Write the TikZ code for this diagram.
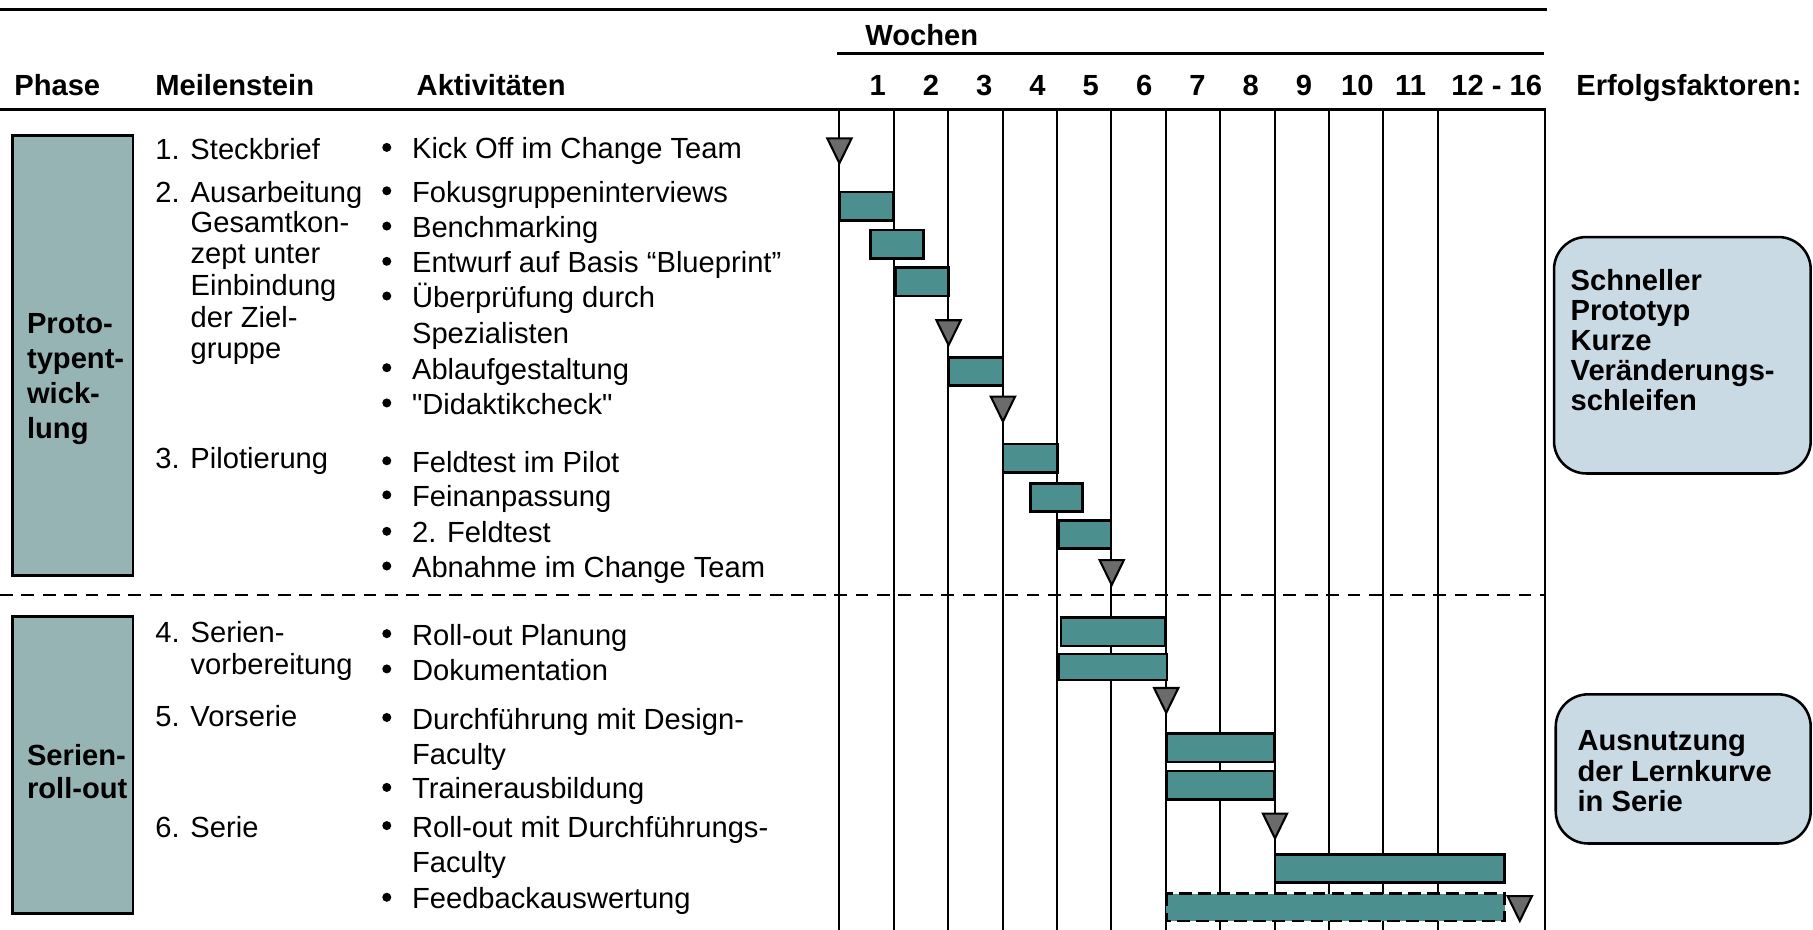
\documentclass[tikz,border=0pt]{standalone}
\usepackage{fontspec}
\setmainfont{Liberation Sans}
\usepackage{xcolor}
\usepackage{tikz}

\definecolor{barteal}{HTML}{4B8F8F}
\definecolor{phasegray}{HTML}{97B4B4}
\definecolor{factorblue}{HTML}{C9DAE5}
\definecolor{milegray}{HTML}{6B6B6B}

\begin{document}
\begin{tikzpicture}[x=0.5pt,y=-0.5pt,
    txt/.style={anchor=base west, inner sep=0pt, font=\fontsize{12.6}{15}\selectfont},
    hd/.style={txt, font=\fontsize{12.6}{15}\selectfont\bfseries},
    wk/.style={hd, anchor=base},
    dot/.style={circle, fill=black, inner sep=0pt, minimum size=3.9pt},
    bar/.style={draw=black, line width=1.15pt, fill=barteal},
    tri/.style={draw=black, line width=0.9pt, fill=milegray},
    gridline/.style={line width=0.85pt},
    rule/.style={line width=1.2pt},
    dashrule/.style={line width=1.1pt, dash pattern=on 5.5pt off 3.75pt}]
        \useasboundingbox (0,0) rectangle (1568,804);

        \coordinate (topL) at (0,8);
        \coordinate (topR) at (1338,8);
        \coordinate (wochenL) at (724,46);
        \coordinate (wochenR) at (1335,46);
        \coordinate (headL) at (0,95);
        \coordinate (headR) at (1337,95);
        \coordinate (splitL) at (0,514.7);
        \coordinate (splitR) at (1337,514.7);

        \draw[rule] (topL) -- (topR);
        \draw[rule] (wochenL) -- (wochenR);
        \draw[rule] (headL) -- (headR);

        \foreach \i in {0,...,11}
            \draw[gridline] (726+47.05*\i,95) -- (726+47.05*\i,804);
        \draw[gridline] (1336.6,95) -- (1336.6,804);

        \draw[dashrule] (splitL) -- (splitR);

        \draw[line width=1.2pt, fill=phasegray] (11,117) rectangle (115,498);
        \draw[line width=1.2pt, fill=phasegray] (11,533.5) rectangle (115,790);

        \draw[line width=1.1pt, fill=factorblue, rounded corners=14pt] (1344,205) rectangle (1566,409.5);
        \draw[line width=1.1pt, fill=factorblue, rounded corners=14pt] (1345.5,600.5) rectangle (1566,729.5);

        \foreach \xa/\xb/\ya/\yb in {726/773/166/190.5, 752.6/798.7/199/223.5, 774.5/820.4/231.6/256,
            820.4/867.4/309/333.6, 867.4/914.6/384/408.6, 891/936.3/418/442.6, 916/960.8/450/474.3,
            917.6/1007.7/534.3/558.8, 915.8/1009.4/565.7/588.2, 1008.6/1102/634.4/658.9,
            1008.6/1102/666.7/691.2, 1102.7/1301.3/738.8/763.3}
            \draw[bar] (\xa,\ya) rectangle (\xb,\yb);
        \draw[bar, dash pattern=on 5.5pt off 2.75pt] (1008.6,772.8) rectangle (1301.3,796.4);

        \foreach \x/\y in {726/119.7, 820.4/277, 867.4/343, 961.5/484.4, 1008.6/595, 1102.7/703.6, 1314.4/775}
            \draw[tri] (\x-10.5,\y) -- (\x+10.5,\y) -- (\x,\y+21.5) -- cycle;

        \node[hd] (phase) at (12,82.5) {Phase};
        \node[hd] (meilenstein) at (134,82.5) {Meilenstein};
        \node[hd] (aktivitaeten) at (360,82.5) {Aktivitäten};
        \node[hd] (wochen) at (748,39.3) {Wochen};
        \node[hd] (erfolg) at (1363,82.5) {Erfolgsfaktoren:};
        \foreach \n [count=\i from 0] in {1,...,11}
            \node[wk] (w\n) at (759+46.1*\i,82.5) {\n};
        \node[wk] (w12) at (1294.5,82.5) {12 - 16};

        \foreach \y/\t [count=\i] in {288.7/Proto-, 319/typent-, 349.2/wick-, 379.5/lung}
            \node[hd] (pa\i) at (23,\y) {\t};
        \foreach \y/\t [count=\i] in {662/Serien-, 691/roll-out}
            \node[hd] (pb\i) at (23,\y) {\t};

        \node[txt] (m1) at (134,138) {1. Steckbrief};
        \node[txt] (m2) at (134,175) {2.};
        \foreach \y/\t [count=\i] in {175/Ausarbeitung, 201/Gesamtkon-, 228/zept unter,
            255.5/Einbindung, 283/der Ziel-, 310/gruppe}
            \node[txt] (m2l\i) at (164.5,\y) {\t};
        \node[txt] (m3) at (134,405.5) {3. Pilotierung};
        \node[txt] (m4) at (134,556) {4.};
        \node[txt] (m4a) at (164.5,556) {Serien-};
        \node[txt] (m4b) at (164.5,583) {vorbereitung};
        \node[txt] (m5) at (134,628) {5. Vorserie};
        \node[txt] (m6) at (134,724) {6. Serie};

        \foreach \y [count=\i] in {137.5, 175, 205.5, 236, 266, 328, 358.5, 408.5, 438, 469.5, 499.5,
            558, 588.5, 630.5, 691, 724, 786}
            \node[dot] (b\i) at (334.5,\y-10) {};
        \foreach \y/\t [count=\i] in {137.5/Kick Off im Change Team, 175/Fokusgruppeninterviews,
            205.5/Benchmarking, 236/Entwurf auf Basis “Blueprint”, 266/Überprüfung durch,
            297.5/Spezialisten, 328/Ablaufgestaltung, 358.5/\textquotedbl Didaktikcheck\textquotedbl,
            408.5/Feldtest im Pilot, 438/Feinanpassung, 469.5/2. Feldtest, 499.5/Abnahme im Change Team,
            558/Roll-out Planung, 588.5/Dokumentation, 630.5/Durchführung mit Design-, 661/Faculty,
            691/Trainerausbildung, 724/Roll-out mit Durchführungs-, 754.5/Faculty, 786/Feedbackauswertung}
            \node[txt] (a\i) at (356,\y) {\t};

        \foreach \y/\t [count=\i] in {251/Schneller, 277/Prototyp, 303/Kurze, 329/Veränderungs-, 355/schleifen}
            \node[hd] (fa\i) at (1358,\y) {\t};
        \foreach \y/\t [count=\i] in {649/Ausnutzung, 675.5/der Lernkurve, 702/in Serie}
            \node[hd] (fb\i) at (1364,\y) {\t};
    \end{tikzpicture}
\end{document}
